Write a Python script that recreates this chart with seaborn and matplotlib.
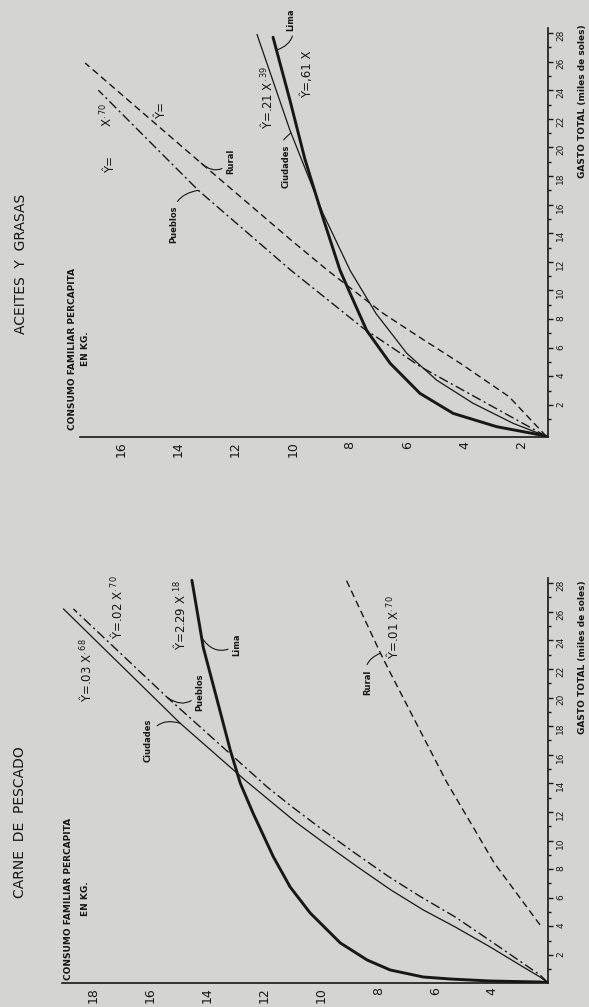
import numpy as np
import pandas as pd
import matplotlib
matplotlib.use("Agg")
import matplotlib.pyplot as plt
import seaborn as sns

# values: gasto total (miles de soles) and consumo (kg)
# CARNE DE PESCADO
carne_lima_gasto = [0.06, 0.11, 0.18, 0.32, 0.46, 0.95, 1.65, 2.84, 4.94, 6.75, 8.86, 11.9, 14.0, 16.3, 19.8, 23.5, 28.2]
carne_lima_cons = [2.1, 2.32, 4.07, 5.47, 6.42, 7.58, 8.39, 9.33, 10.39, 11.09, 11.68, 12.39, 12.84, 13.19, 13.65, 14.14, 14.54]
carne_ciud_gasto = [0.1, 0.46, 1.16, 2.56, 3.96, 5.15, 6.54, 8.15, 9.83, 11.3, 14.2, 18.2, 26.2]
carne_ciud_cons = [2.08, 2.32, 2.91, 4.07, 5.3, 6.42, 7.55, 8.72, 9.9, 10.9, 12.66, 14.95, 19.05]
carne_pueb_gasto = [0.1, 0.6, 3.0, 4.66, 6.06, 7.46, 9.1, 10.75, 12.4, 13.75, 20.0, 26.2]
carne_pueb_cons = [2.06, 2.32, 4.07, 5.3, 6.5, 7.62, 8.8, 9.95, 11.05, 11.9, 15.4, 18.7]
carne_rural_gasto = [4.1, 8.44, 14.1, 21.9, 23.1, 28.3]
carne_rural_cons = [2.32, 3.93, 5.6, 7.62, 7.92, 9.14]

# ACEITES Y GRASAS
aceite_lima_gasto = [-0.2, -0.1, 0.47, 1.4, 2.8, 4.9, 7.2, 9.8, 11.4, 15.1, 19.2, 23.3, 27.7]
aceite_lima_cons = [1.15, 1.37, 2.88, 4.4, 5.56, 6.6, 7.42, 8.0, 8.35, 8.95, 9.58, 10.1, 10.69]
aceite_ciud_gasto = [-0.2, 0.7, 2.1, 3.73, 5.6, 8.4, 11.4, 15.4, 21.2, 27.9]
aceite_ciud_cons = [1.15, 2.3, 3.7, 4.98, 6.02, 7.1, 8.0, 8.95, 10.1, 11.25]
aceite_pueb_gasto = [-0.2, 1.85, 4.64, 7.37, 11.43, 17.0, 24.0]
aceite_pueb_cons = [1.15, 3.0, 5.52, 7.55, 10.08, 13.3, 16.79]
aceite_rural_gasto = [-0.2, 2.57, 4.9, 6.76, 8.4, 11.43, 13.5, 18.9, 25.9]
aceite_rural_cons = [1.15, 2.45, 4.15, 5.6, 6.85, 8.8, 10.05, 13.2, 17.25]

gasto_ticks = list(range(2, 29, 2))
carne_cons_ticks = list(range(4, 19, 2))
aceite_cons_ticks = list(range(2, 17, 2))

sns.set_theme(style="white")
plt.rcParams["font.family"] = ["DejaVu Sans"]

BG = "#d4d4d2"
INK = "#171717"

estilos = {"Lima": "", "Ciudades": "", "Pueblos": (7, 2.5, 1.5, 2.5), "Rural": (5, 3)}
grosores = {"Lima": 2.1, "Ciudades": 0.9, "Pueblos": 1.0, "Rural": 1.0}


def panel(ax, series, xlim, ylim, cons_ticks):
    df = pd.concat([pd.DataFrame({"gasto": g, "consumo": c, "zona": z})
                    for z, (g, c) in series.items()], ignore_index=True)
    sns.lineplot(data=df, x="consumo", y="gasto", hue="zona", style="zona", size="zona",
                 palette={z: INK for z in series}, dashes=estilos, sizes=grosores,
                 sort=False, estimator=None, legend=False, ax=ax)
    ax.set_facecolor("none")
    ax.set_xlim(xlim)
    ax.set_ylim(ylim)
    ax.set_xlabel("")
    ax.set_ylabel("")
    for s in ["top", "left"]:
        ax.spines[s].set_visible(False)
    for s in ["bottom", "right"]:
        ax.spines[s].set_color(INK)
        ax.spines[s].set_linewidth(1.2)
    ax.set_xticks(cons_ticks)
    ax.set_xticks([t + 1 for t in cons_ticks[:-1]], minor=True)
    ax.set_yticks(gasto_ticks)
    ax.set_yticks(list(range(1, 28, 2)), minor=True)
    ax.yaxis.tick_right()
    ax.tick_params(axis="x", which="both", direction="out", width=1, colors=INK,
                   labelsize=9, labelrotation=90, pad=-1)
    ax.tick_params(axis="x", which="major", length=4)
    ax.tick_params(axis="x", which="minor", length=3)
    ax.tick_params(axis="y", which="both", direction="out", width=1, colors=INK,
                   labelsize=6.5, labelrotation=90, pad=2.5, right=True, left=False,
                   labelright=True, labelleft=False)
    ax.tick_params(axis="y", which="major", length=3.5)
    ax.tick_params(axis="y", which="minor", length=2)


def etiqueta(ax, texto, xy, xytext, rad=-0.5):
    ax.annotate(texto, xy=xy, xytext=xytext, rotation=90, ha="center", va="center",
                fontsize=6, fontweight="bold", color=INK, annotation_clip=False,
                arrowprops=dict(arrowstyle="-", color=INK, lw=0.8,
                                connectionstyle=f"arc3,rad={rad}", shrinkA=1, shrinkB=0))


def ecuacion(ax, x, y, texto):
    ax.text(x, y, texto, rotation=90, ha="center", va="center", fontsize=8.5,
            color=INK, clip_on=False)


fig = plt.figure(figsize=(5.89, 10.07), dpi=100, facecolor=BG)

# ACEITES Y GRASAS (upper panel)
ax1 = fig.add_axes([80 / 589, 570 / 1007, 468 / 589, 409 / 1007])
panel(ax1, {"Lima": (aceite_lima_gasto, aceite_lima_cons),
            "Ciudades": (aceite_ciud_gasto, aceite_ciud_cons),
            "Pueblos": (aceite_pueb_gasto, aceite_pueb_cons),
            "Rural": (aceite_rural_gasto, aceite_rural_cons)},
      (17.43, 1.09), (-0.25, 28.35), aceite_cons_ticks)
ecuacion(ax1, 16.35, 18.8, "Ŷ=")
ecuacion(ax1, 16.5, 22.3, "X$^{.70}$")
ecuacion(ax1, 14.57, 22.6, "Ŷ=")
ecuacion(ax1, 10.9, 23.5, "Ŷ=.21 X$^{.39}$")
ecuacion(ax1, 9.5, 25.1, "Ŷ=,61 X")
etiqueta(ax1, "Rural", (13.2, 18.9), (12.16, 19.0))
etiqueta(ax1, "Pueblos", (13.3, 17.0), (14.15, 14.6))
etiqueta(ax1, "Ciudades", (10.07, 21.0), (10.24, 18.7))
etiqueta(ax1, "Lima", (10.57, 26.8), (10.06, 28.9))

# CARNE DE PESCADO (lower panel)
ax2 = fig.add_axes([62 / 589, 24 / 1007, 486 / 589, 405 / 1007])
panel(ax2, {"Lima": (carne_lima_gasto, carne_lima_cons),
            "Ciudades": (carne_ciud_gasto, carne_ciud_cons),
            "Pueblos": (carne_pueb_gasto, carne_pueb_cons),
            "Rural": (carne_rural_gasto, carne_rural_cons)},
      (19.1, 2.04), (0.04, 28.36), carne_cons_ticks)
ecuacion(ax2, 18.25, 21.9, "Ŷ=.03 X$^{.68}$")
ecuacion(ax2, 17.16, 26.3, "Ŷ=.02 X$^{.70}$")
ecuacion(ax2, 14.95, 25.8, "Ŷ=2.29 X$^{.18}$")
ecuacion(ax2, 7.47, 24.9, "Ŷ=.01 X$^{.70}$")
etiqueta(ax2, "Lima", (14.2, 24.2), (12.95, 23.7))
etiqueta(ax2, "Pueblos", (15.4, 20.0), (14.25, 20.4))
etiqueta(ax2, "Ciudades", (14.95, 18.2), (16.07, 17.0))
etiqueta(ax2, "Rural", (7.92, 23.1), (8.35, 21.1))

# titles and axis captions, rotated like the scanned page
fig.text(21 / 589, 1 - 264 / 1007, "ACEITES  Y  GRASAS", rotation=90, ha="center",
         va="center", fontsize=10, color=INK)
fig.text(20 / 589, 1 - 822 / 1007, "CARNE  DE  PESCADO", rotation=90, ha="center",
         va="center", fontsize=10, color=INK)
fig.text(79 / 589, 1 - 430 / 1007, "CONSUMO FAMILIAR PERCAPITA\nEN KG.", rotation=90,
         ha="center", va="bottom", multialignment="center", linespacing=1.6,
         fontsize=6.5, fontweight="bold", color=INK)
fig.text(77 / 589, 1 - 980 / 1007, "CONSUMO FAMILIAR PERCAPITA\nEN KG.", rotation=90,
         ha="center", va="bottom", multialignment="center", linespacing=2.1,
         fontsize=6.5, fontweight="bold", color=INK)
fig.text(583 / 589, 1 - 101 / 1007, "GASTO TOTAL (miles de soles)", rotation=90,
         ha="center", va="center", fontsize=6.5, fontweight="bold", color=INK)
fig.text(583 / 589, 1 - 657 / 1007, "GASTO TOTAL (miles de soles)", rotation=90,
         ha="center", va="center", fontsize=6.5, fontweight="bold", color=INK)

fig.savefig("out.png", dpi=100, facecolor=BG)
